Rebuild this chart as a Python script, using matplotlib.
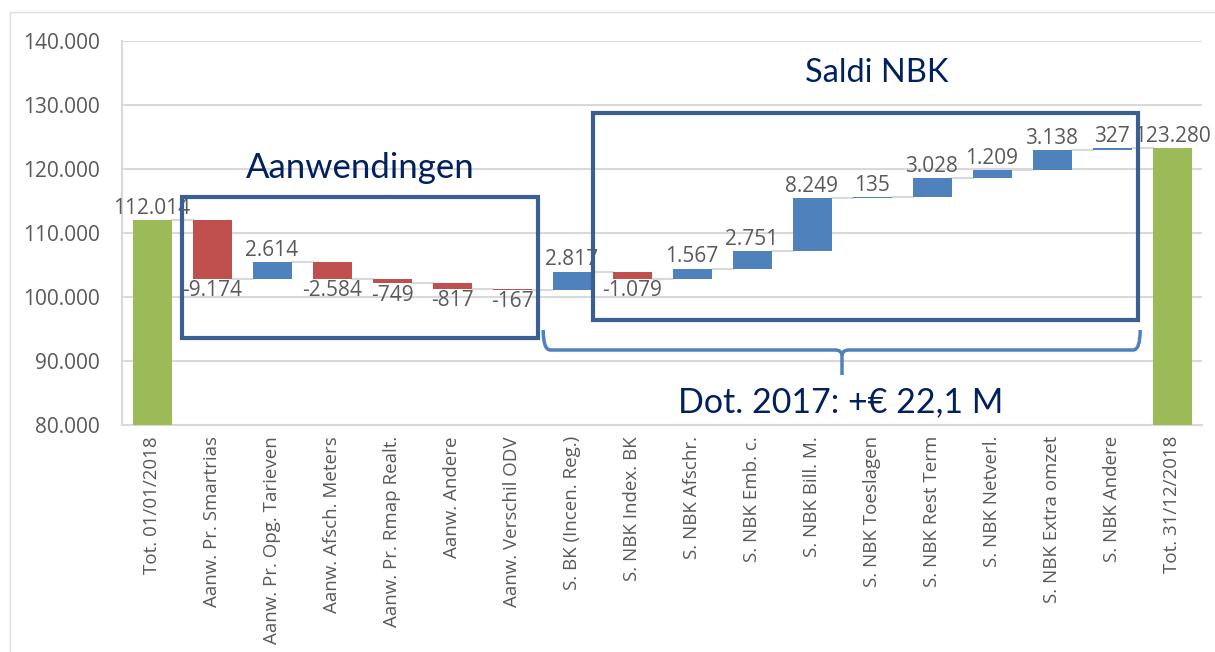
import matplotlib.pyplot as plt
from matplotlib.patches import Rectangle, PathPatch
from matplotlib.path import Path
from matplotlib.lines import Line2D

plt.rcParams['font.family'] = ['Open Sans', 'DejaVu Sans']

categories = ['Tot. 01/01/2018', 'Aanw. Pr. Smartrias', 'Aanw. Pr. Opg. Tarieven',
              'Aanw. Afsch. Meters', 'Aanw. Pr. Rmap Realt.', 'Aanw. Andere',
              'Aanw. Verschil ODV', 'S. BK (Incen. Reg.)', 'S. NBK Index. BK',
              'S. NBK Afschr.', 'S. NBK Emb. c.', 'S. NBK Bill. M.', 'S. NBK Toeslagen',
              'S. NBK Rest Term', 'S. NBK Netverl.', 'S. NBK Extra omzet',
              'S. NBK Andere', 'Tot. 31/12/2018']
start_total = 112014
changes = [-9174, 2614, -2584, -749, -817, -167, 2817, -1079, 1567, 2751,
           8249, 135, 3028, 1209, 3138, 327]
end_total = 123280
yticks = [80000, 90000, 100000, 110000, 120000, 130000, 140000]

GREEN = '#9BBB59'
RED = '#C0504D'
BLUE = '#4F81BD'
GRID = '#D9D9D9'
TXT = '#595959'
NAVY = '#002060'
BOX = '#3A5F95'
LBL = 15


def fmt(v):
    return f"{v:,}".replace(",", ".")


fig = plt.figure(figsize=(12.15, 6.52), dpi=100)
ax = fig.add_axes([122 / 1215, (652 - 425) / 652, 1080 / 1215, 384 / 652])

w = 0.65
last = len(categories) - 1
# totals
ax.bar(0, start_total, width=w, color=GREEN, zorder=3)
ax.bar(last, end_total, width=w, color=GREEN, zorder=3)
ax.annotate(fmt(start_total), (0, start_total), xytext=(0, 1), textcoords='offset points',
            ha='center', va='bottom', fontsize=LBL, color=TXT, zorder=5)
ax.annotate(fmt(end_total), (last, end_total), xytext=(0, 1),
            textcoords='offset points', ha='center', va='bottom', fontsize=LBL,
            color=TXT, zorder=5)

level = start_total
for i, c in enumerate(changes, start=1):
    new = level + c
    lo, hi = min(level, new), max(level, new)
    ax.bar(i, hi - lo, bottom=lo, width=w, color=BLUE if c > 0 else RED, zorder=3)
    # connector from previous bar
    ax.plot([i - 1 + w / 2, i - w / 2], [level, level], color=GRID, lw=1.5, zorder=2)
    if c > 0:
        ax.annotate(fmt(c), (i, hi), xytext=(0, 1), textcoords='offset points',
                    ha='center', va='bottom', fontsize=LBL, color=TXT, zorder=5)
    else:
        ax.annotate(fmt(c), (i, lo), xytext=(0, -1), textcoords='offset points',
                    ha='center', va='top', fontsize=LBL, color=TXT, zorder=5)
    level = new
ax.plot([last - 1 + w / 2, last - w / 2], [level, level], color=GRID, lw=1.5, zorder=2)

ax.set_xlim(-0.5, len(categories) - 0.5)
ax.set_ylim(80000, 140000)
ax.set_yticks(yticks)
ax.set_yticklabels([fmt(t) for t in yticks], fontsize=15, color=TXT)
ax.set_xticks(range(len(categories)))
ax.set_xticklabels(categories, rotation=90, fontsize=13.5, color=TXT)
ax.tick_params(length=0, pad=8)
ax.tick_params(axis='y', pad=16)
ax.grid(axis='y', color=GRID, lw=1.5, zorder=0)
for s in ['top', 'right']:
    ax.spines[s].set_visible(False)
for s in ['left', 'bottom']:
    ax.spines[s].set_color(GRID)
    ax.spines[s].set_linewidth(1.5)

# annotation boxes
ax.add_patch(Rectangle((0.5, 93594), 5.93, 115625 - 93594, fill=False,
                       ec=BOX, lw=3, zorder=6, clip_on=False))
ax.add_patch(Rectangle((7.35, 96406), 9.08, 128750 - 96406, fill=False,
                       ec=BOX, lw=3, zorder=6, clip_on=False))
ax.text(3.47, 120156, 'Aanwendingen', ha='center', va='center', fontsize=25,
        color=NAVY, family=['Lato', 'DejaVu Sans'], zorder=6)
ax.text(12.08, 135000, 'Saldi NBK', ha='center', va='center', fontsize=23.5,
        color=NAVY, family=['Lato', 'DejaVu Sans'], zorder=6)
ax.text(11.47, 83594, 'Dot. 2017: +€ 22,1 M', ha='center', va='center', fontsize=24.5,
        color=NAVY, family=['Lato', 'DejaVu Sans'], zorder=6)

# curly brace
x0, x1, xm = 6.52, 16.47, 11.5
yt, ym, yb = 94844, 91719, 87813
r = 0.12
ry = 900
verts = [(x0, yt), (x0, ym), (x0 + r, ym),
         (xm - r, ym), (xm, ym), (xm, ym - ry),
         (xm, yb)]
codes = [Path.MOVETO, Path.CURVE3, Path.CURVE3,
         Path.LINETO, Path.CURVE3, Path.CURVE3,
         Path.LINETO]
verts2 = [(x1, yt), (x1, ym), (x1 - r, ym),
          (xm + r, ym), (xm, ym), (xm, ym - ry)]
codes2 = [Path.MOVETO, Path.CURVE3, Path.CURVE3,
          Path.LINETO, Path.CURVE3, Path.CURVE3]
for v, c in [(verts, codes), (verts2, codes2)]:
    ax.add_patch(PathPatch(Path(v, c), fill=False, ec=BLUE, lw=2.5, zorder=6))

# outer frame (left and top edges only)
bx, by = 10 / 1215, 1 - 12 / 652
fig.add_artist(Line2D([bx, bx], [0, by], transform=fig.transFigure, color='#E0E0E0', lw=1))
fig.add_artist(Line2D([bx, 1], [by, by], transform=fig.transFigure, color='#E0E0E0', lw=1))

fig.savefig('out.png', dpi=100)
